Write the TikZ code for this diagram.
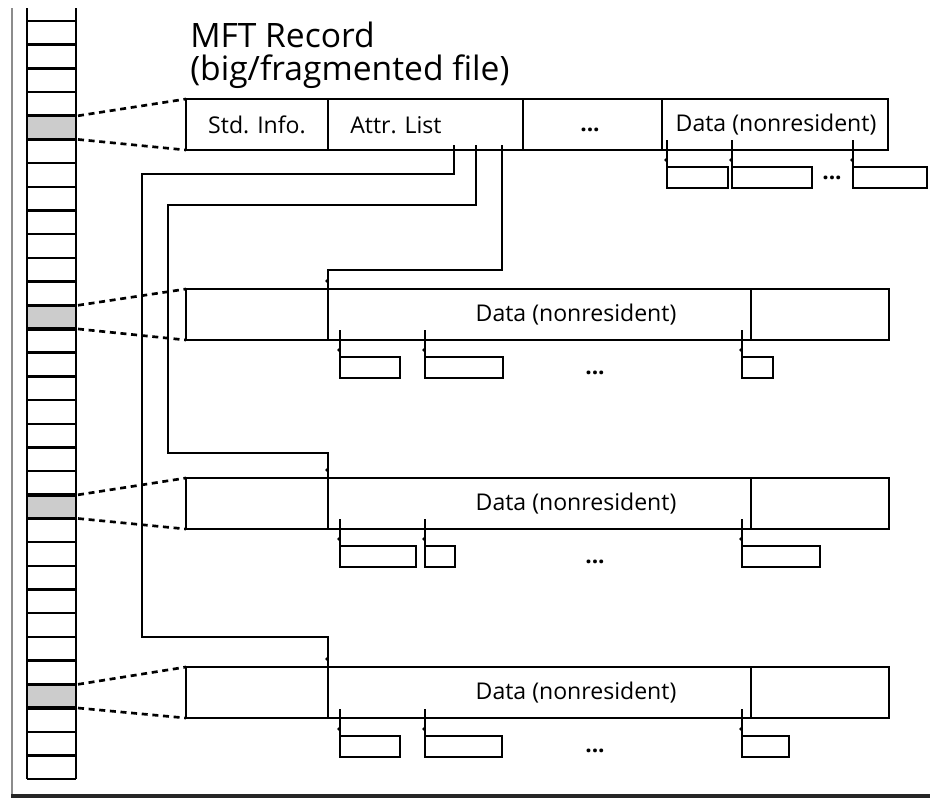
\documentclass[tikz,border=0pt]{standalone}
\usepackage{fontspec}
\setmainfont{Open Sans}
\newcommand\mysubbox[4]{%
  \node[subb={(#3-#2)}] (#1) at (#2,{#4+17}) {};
  \coordinate (#1t) at (#2,{#4-10});
  \draw[ln] (#1t) -- (#1.south west);
  \fill (#2-1,{#4+10}) circle (1.4pt);
}
\begin{document}
\begin{tikzpicture}[x=0.75pt,y=-0.75pt,
  ln/.style={line width=2.1pt},
  reccell/.style={draw, line width=2.1pt, inner sep=0pt, outer sep=0pt, anchor=north west, minimum height=38.25pt, minimum width=#1*0.75pt},
  subb/.style={draw, line width=1.9pt, inner sep=0pt, outer sep=0pt, anchor=north west, minimum height=15.75pt, minimum width=#1*0.75pt},
  lab/.style={font=\fontsize{17.3}{20}\selectfont, inner sep=0pt},
  ellip/.style={font=\fontsize{17}{20}\selectfont\bfseries, inner sep=0pt},
  ttl/.style={font=\fontsize{25.2}{30}\selectfont, inner sep=0pt, anchor=base west},
  dott/.style={line width=2pt, dash pattern=on 4.5pt off 3.5pt},
]
\useasboundingbox (0,0) rectangle (930,800);

% outer frame
\draw[black!45, line width=2.2pt] (12,8) -- (12,795);
\draw[black!85, line width=2.6pt] (11,796) -- (930,796);

% MFT column
\foreach \k in {4,12,20,28}
  \fill[black!20] (27,{21+23.69*\k}) rectangle (76,{21+23.69*(\k+1)});
\draw[line width=1.8pt] (27,8) -- (27,779);
\draw[line width=1.8pt] (76,8) -- (76,779);
\foreach \k in {0,...,32}
  \draw[line width=1.8pt] (27,{21+23.69*\k}) -- (76,{21+23.69*\k});
\foreach \k in {4,5,12,13,20,21,28,29}
  \draw[line width=2.6pt] (27,{21+23.69*\k}) -- (76,{21+23.69*\k});

% title
\node[ttl] (title1) at (190,47) {MFT Record};
\node[ttl] (title2) at (190,80) {(big/fragmented file)};

% top record
\node[reccell=142] (r1a) at (186,99) {};
\node[reccell=195] (r1b) at (328,99) {};
\node[reccell=139] (r1c) at (523,99) {};
\node[reccell=226] (r1d) at (662,99) {};
\node[lab] (t1a) at (257,125) {Std. Info.};
\node[lab, anchor=west] (t1b) at (350,125) {Attr. List};
\node[ellip] (t1c) at (590,130) {...};
\node[lab] (t1d) at (776,125) {Data (nonresident)};

% rows 2-4
\foreach \r/\yt in {2/289, 3/478, 4/667}{
  \node[reccell=142] (r\r a) at (186,\yt) {};
  \node[reccell=423] (r\r b) at (328,\yt) {};
  \node[reccell=138] (r\r c) at (751,\yt) {};
  \node[lab] (t\r) at (576,{\yt+26}) {Data (nonresident)};
  \node[ellip] (e\r) at (595,{\yt+84}) {...};
}

% dotted links from MFT column
\foreach \r/\k in {1/4, 2/12, 3/20, 4/28}{
  \coordinate (g\r t) at (78,{21+23.69*\k});
  \coordinate (g\r b) at (78,{21+23.69*(\k+1)});
  \draw[dott] (g\r t) -- (r\r a.north west);
  \draw[dott] (g\r b) -- (r\r a.south west);
}

% attribute list pointers
\coordinate (p1) at (454,145);
\coordinate (p2) at (476,145);
\coordinate (p3) at (502,145);
\draw[ln] (p1) -- (454,174) -- (142,174) -- (142,637) -- (328,637) -- (r4a.north east);
\draw[ln] (p2) -- (476,205) -- (168,205) -- (168,453) -- (328,453) -- (r3a.north east);
\draw[ln] (p3) -- (502,270) -- (328,270) -- (r2a.north east);
\foreach \y in {281,470,659}
  \fill (327,\y) circle (1.4pt);

% extents, top record
\mysubbox{s1a}{667}{728}{150}
\mysubbox{s1b}{732}{812}{150}
\mysubbox{s1c}{853}{927}{150}
\node[ellip] (e1) at (832,178) {...};

% extents, row 2
\mysubbox{s2a}{340}{400}{340}
\mysubbox{s2b}{425}{503}{340}
\mysubbox{s2c}{742}{773}{340}

% extents, row 3
\mysubbox{s3a}{340}{416}{529}
\mysubbox{s3b}{425}{455}{529}
\mysubbox{s3c}{742}{820}{529}

% extents, row 4
\mysubbox{s4a}{340}{400}{719}
\mysubbox{s4b}{425}{502}{719}
\mysubbox{s4c}{742}{789}{719}
\end{tikzpicture}
\end{document}
